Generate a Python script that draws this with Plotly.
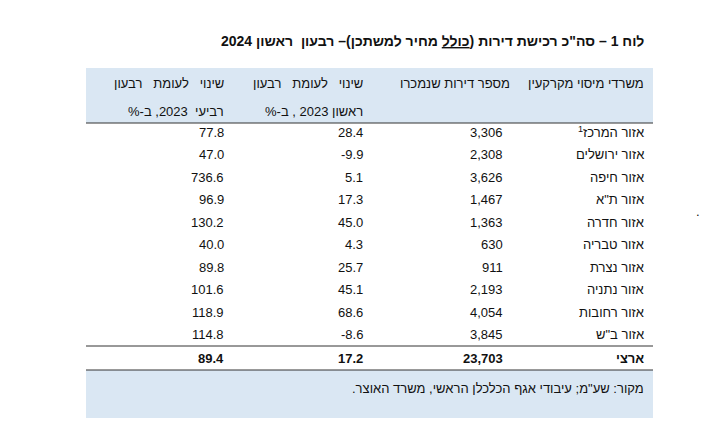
import plotly.graph_objects as go

regions = ["אזור המרכז<sup>1</sup>", "אזור ירושלים", "אזור חיפה", "אזור ת\"א", "אזור חדרה",
           "אזור טבריה", "אזור נצרת", "אזור נתניה", "אזור רחובות", "אזור ב\"ש"]
apartments = ["3,306", "2,308", "3,626", "1,467", "1,363", "630", "911", "2,193", "4,054", "3,845"]
change_q1 = ["28.4", "-9.9", "5.1", "17.3", "45.0", "4.3", "25.7", "45.1", "68.6", "-8.6"]
change_q4 = ["77.8", "47.0", "736.6", "96.9", "130.2", "40.0", "89.8", "101.6", "118.9", "114.8"]
total = ["ארצי", "23,703", "17.2", "89.4"]

title = "לוח 1 – סה\"כ רכישת דירות (<u>כולל</u> מחיר למשתכן)– רבעון  ראשון 2024"
headers_top = ["משרדי מיסוי מקרקעין", "מספר דירות שנמכרו", "שינוי   לעומת   רבעון", "שינוי   לעומת   רבעון"]
headers_bottom = ["", "", "ראשון 2023 , ב-%", "רביעי  2023, ב-%"]
source = "מקור: שע\"מ; עיבודי אגף הכלכלן הראשי, משרד האוצר."


def rtl(s):
    return "\u202B\u200F" + s + "\u200F\u202C"


col_x = [638, 497, 357, 218]
head_x = [638, 504, 357, 218]
row_y = [124 + 22.5 * i for i in range(len(regions))]
font = dict(family="Liberation Sans, Arial", size=13, color="#111")
blue = "#dae7f3"

fig = go.Figure()
fig.add_trace(go.Scatter(x=[0, 711], y=[0, 447], mode="markers", marker=dict(opacity=0),
                         hoverinfo="skip", showlegend=False))

shapes = [
    dict(type="rect", x0=78, x1=645, y0=60, y1=115, fillcolor=blue, line_width=0, layer="below"),
    dict(type="rect", x0=78, x1=645, y0=362, y1=410, fillcolor=blue, line_width=0, layer="below"),
    dict(type="line", x0=78, x1=645, y0=115, y1=115, line=dict(color="#333", width=1)),
    dict(type="line", x0=78, x1=645, y0=338, y1=338, line=dict(color="#333", width=1)),
    dict(type="line", x0=78, x1=645, y0=362, y1=362, line=dict(color="#333", width=1)),
]

ann = [dict(x=638, y=33, text=rtl(f"<b>{title}</b>"), xanchor="right",
            font=dict(family="Liberation Sans, Arial", size=14, color="#111"))]
for i in range(4):
    ann.append(dict(x=head_x[i], y=75, text=rtl(headers_top[i]), xanchor="right", font=font))
    if headers_bottom[i]:
        ann.append(dict(x=head_x[i], y=103, text=rtl(headers_bottom[i]), xanchor="right", font=font))
for i, y in enumerate(row_y):
    for j, v in enumerate([regions[i], apartments[i], change_q1[i], change_q4[i]]):
        ann.append(dict(x=col_x[j], y=y, text=rtl(v) if j == 0 else v, xanchor="right", font=font))
for j, v in enumerate(total):
    ann.append(dict(x=col_x[j], y=350, text=f"<b>{rtl(v) if j == 0 else v}</b>", xanchor="right", font=font))
ann.append(dict(x=638, y=380, text=rtl(source), xanchor="right", font=font))
ann.append(dict(x=690, y=203, text=".", xanchor="center", font=font))
for a in ann:
    a.update(xref="x", yref="y", showarrow=False, yanchor="middle")

fig.update_layout(
    width=711, height=447, margin=dict(l=0, r=0, t=0, b=0),
    plot_bgcolor="white", paper_bgcolor="white",
    xaxis=dict(range=[0, 711], visible=False, fixedrange=True),
    yaxis=dict(range=[447, 0], visible=False, fixedrange=True),
    shapes=shapes, annotations=ann,
)
fig.write_html("out.html")
